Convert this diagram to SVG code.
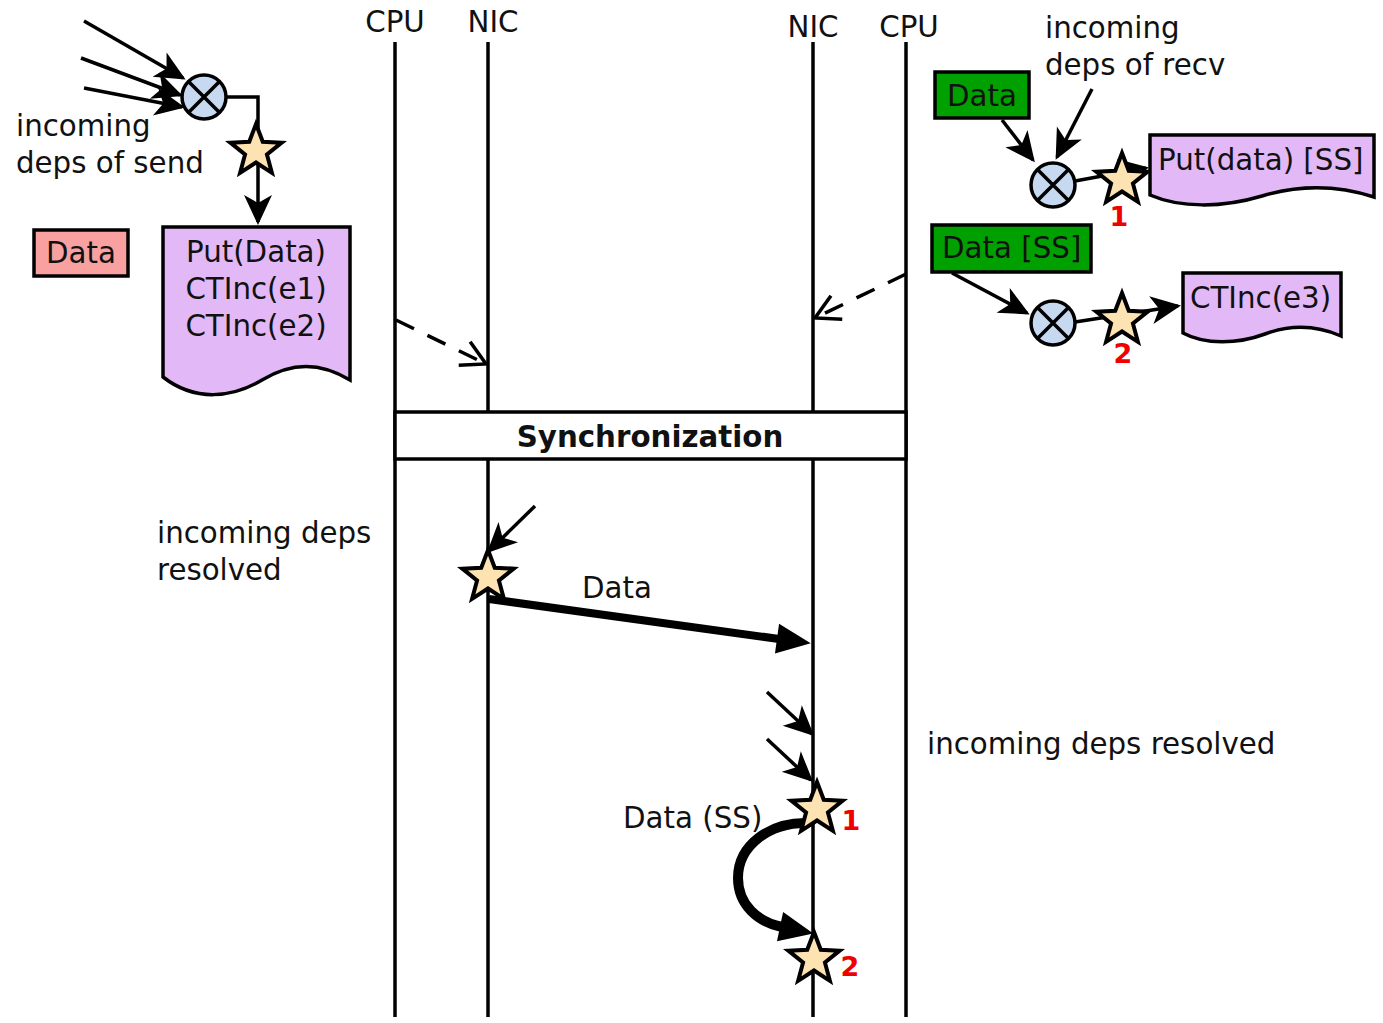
<svg xmlns="http://www.w3.org/2000/svg" xmlns:xlink="http://www.w3.org/1999/xlink" width="1383" height="1023" viewBox="0 0 1383 1023">
  <style>
    text { font-family: "DejaVu Sans", "Liberation Sans", sans-serif; font-size: 29.3px; fill: #111; }
    .bold { font-weight: bold; }
    .num { font-weight: bold; font-size: 27px; fill: #f00000; text-anchor: middle; }
    .mid { text-anchor: middle; }
    .life { stroke: #000; stroke-width: 3.5; fill: none; }
    .edge { stroke: #000; stroke-width: 3.5; fill: none; }
    .dash { stroke: #000; stroke-width: 3.5; fill: none; stroke-dasharray: 20 15; }
    .thick { stroke: #000; stroke-width: 8; fill: none; }
    .doc { fill: #e2b9f6; stroke: #000; stroke-width: 3.5; }
    .green { fill: #00a000; stroke: #000; stroke-width: 3.5; }
    .pink { fill: #f9a0a0; stroke: #000; stroke-width: 3.5; }
    .join circle { fill: #c6d9f0; stroke: #000; stroke-width: 3.5; }
    .join path { stroke: #000; stroke-width: 3.5; fill: none; }
    .star { fill: #fde2b2; stroke: #000; stroke-width: 4; stroke-linejoin: miter; stroke-miterlimit: 10; }
  </style>
  <defs>
    <marker id="ah" markerUnits="userSpaceOnUse" markerWidth="36" markerHeight="32" viewBox="-32 -16 36 32" refX="-3" refY="0" orient="auto">
      <path d="M0,0 L-30,-14 L-22,0 L-30,14 Z" fill="#000"/>
    </marker>
    <marker id="open" markerUnits="userSpaceOnUse" markerWidth="34" markerHeight="34" viewBox="-30 -17 34 34" refX="0" refY="0" orient="auto">
      <path d="M-24,-13 L0,0 L-24,13" fill="none" stroke="#000" stroke-width="3.5"/>
    </marker>
    <marker id="big" markerUnits="userSpaceOnUse" markerWidth="40" markerHeight="36" viewBox="-2 -18 40 36" refX="2" refY="0" orient="auto">
      <path d="M0,-15 L34,0 L0,15 Z" fill="#000"/>
    </marker>
    <path id="starShape" class="star" d="M0,-27 L6.76,-9.3 L25.68,-8.34 L10.94,3.55 L15.87,21.84 L0,11.5 L-15.87,21.84 L-10.94,3.55 L-25.68,-8.34 L-6.76,-9.3 Z"/>
    <g id="joinShape" class="join">
      <circle cx="0" cy="0" r="22"/>
      <path d="M-15.5,-15.5 L15.5,15.5 M15.5,-15.5 L-15.5,15.5"/>
    </g>
  </defs>

  <rect width="1383" height="1023" fill="#fff"/>

  <!-- lifelines -->
  <g id="lifelines">
    <line class="life" x1="395" y1="42" x2="395" y2="1017"/>
    <line class="life" x1="488" y1="42" x2="488" y2="1017"/>
    <line class="life" x1="813" y1="42" x2="813" y2="1017"/>
    <line class="life" x1="906" y1="42" x2="906" y2="1017"/>
    <text class="mid" x="395" y="32">CPU</text>
    <text class="mid" x="493" y="32">NIC</text>
    <text class="mid" x="813" y="37">NIC</text>
    <text class="mid" x="909" y="37">CPU</text>
  </g>

  <!-- synchronization bar -->
  <g id="sync">
    <rect x="395" y="412" width="511" height="47" fill="#fff" stroke="#000" stroke-width="3.5"/>
    <text class="bold mid" x="650" y="447">Synchronization</text>
  </g>

  <!-- connectors -->
  <g id="connectors">
    <line class="edge" x1="84" y1="21" x2="183" y2="78" marker-end="url(#ah)"/>
    <line class="edge" x1="81" y1="58" x2="180" y2="95" marker-end="url(#ah)"/>
    <line class="edge" x1="84" y1="88" x2="182" y2="107" marker-end="url(#ah)"/>
    <path class="edge" d="M225,97 H258 V222" marker-end="url(#ah)"/>

    <line class="edge" x1="1002" y1="120" x2="1033" y2="160" marker-end="url(#ah)"/>
    <line class="edge" x1="1092" y1="89" x2="1057" y2="157" marker-end="url(#ah)"/>
    <line class="edge" x1="1075" y1="181" x2="1146" y2="168" marker-end="url(#ah)"/>
    <line class="edge" x1="952" y1="273" x2="1027" y2="313" marker-end="url(#ah)"/>
    <line class="edge" x1="1075" y1="322" x2="1178" y2="306" marker-end="url(#ah)"/>

    <line class="dash" x1="396" y1="320" x2="486" y2="364" marker-end="url(#open)"/>
    <line class="dash" x1="906" y1="274" x2="815" y2="318" marker-end="url(#open)"/>

    <line class="edge" x1="535" y1="506" x2="489" y2="551" marker-end="url(#ah)"/>
    <line class="thick" x1="489" y1="599" x2="779" y2="639" marker-end="url(#big)"/>

    <line class="edge" x1="767" y1="692" x2="812" y2="734" marker-end="url(#ah)"/>
    <line class="edge" x1="767" y1="739" x2="811" y2="780" marker-end="url(#ah)"/>
    <path d="M808,823 C770,822 738,845 738,878 C738,905 758,922 782,927" fill="none" stroke="#000" stroke-width="10" marker-end="url(#big)"/>
  </g>

  <!-- sender side -->
  <g id="send-join"><use xlink:href="#joinShape" x="204" y="97"/></g>
  <g id="send-trigger"><use xlink:href="#starShape" x="256" y="151"/></g>
  <g id="send-deps-label">
    <text x="16" y="136">incoming</text>
    <text x="16" y="173">deps of send</text>
  </g>
  <g id="send-data">
    <rect class="pink" x="34" y="230" width="94" height="46"/>
    <text class="mid" x="81" y="263">Data</text>
  </g>
  <g id="send-ops">
    <path class="doc" d="M163,227 H350 V380 C320,362 292,362 262,380 C232,398 195,402 163,377 Z"/>
    <text class="mid" x="256" y="262">Put(Data)</text>
    <text class="mid" x="256" y="299">CTInc(e1)</text>
    <text class="mid" x="256" y="336">CTInc(e2)</text>
  </g>

  <!-- receiver side -->
  <g id="recv-deps-label">
    <text x="1045" y="38">incoming</text>
    <text x="1045" y="75">deps of recv</text>
  </g>
  <g id="recv-data">
    <rect class="green" x="935" y="72" width="94" height="46"/>
    <text class="mid" x="982" y="106">Data</text>
  </g>
  <g id="recv-join1"><use xlink:href="#joinShape" x="1053" y="185"/></g>
  <g id="recv-trigger1">
    <use xlink:href="#starShape" x="1122" y="180"/>
    <text class="num" x="1119" y="226">1</text>
  </g>
  <g id="recv-put">
    <path class="doc" d="M1150,135 H1374 V197 C1340,186 1302,184 1262,196 C1222,208 1180,208 1150,195 Z"/>
    <text x="1158" y="170">Put(data) [SS]</text>
  </g>
  <g id="recv-data-ss">
    <rect class="green" x="932" y="225" width="159" height="47"/>
    <text x="942" y="258">Data [SS]</text>
  </g>
  <g id="recv-join2"><use xlink:href="#joinShape" x="1053" y="323"/></g>
  <g id="recv-trigger2">
    <use xlink:href="#starShape" x="1122" y="320"/>
    <text class="num" x="1123" y="363">2</text>
  </g>
  <g id="recv-ctinc">
    <path class="doc" d="M1183,273 H1341 V336 C1318,326 1292,324 1265,334 C1238,344 1205,345 1183,333 Z"/>
    <text x="1190" y="308">CTInc(e3)</text>
  </g>

  <!-- timeline events -->
  <g id="resolved-left">
    <text x="157" y="543">incoming deps</text>
    <text x="157" y="580">resolved</text>
  </g>
  <g id="nic-send-trigger"><use xlink:href="#starShape" x="488" y="577"/></g>
  <g id="data-label"><text x="582" y="598">Data</text></g>

  <g id="resolved-right"><text x="927" y="754">incoming deps resolved</text></g>
  <g id="nic-recv-trigger1">
    <use xlink:href="#starShape" x="817" y="809"/>
    <text class="num" x="851" y="830">1</text>
  </g>
  <g id="data-ss-label"><text x="623" y="828">Data (SS)</text></g>
  <g id="nic-recv-trigger2">
    <use xlink:href="#starShape" x="814" y="959"/>
    <text class="num" x="850" y="976">2</text>
  </g>
</svg>
